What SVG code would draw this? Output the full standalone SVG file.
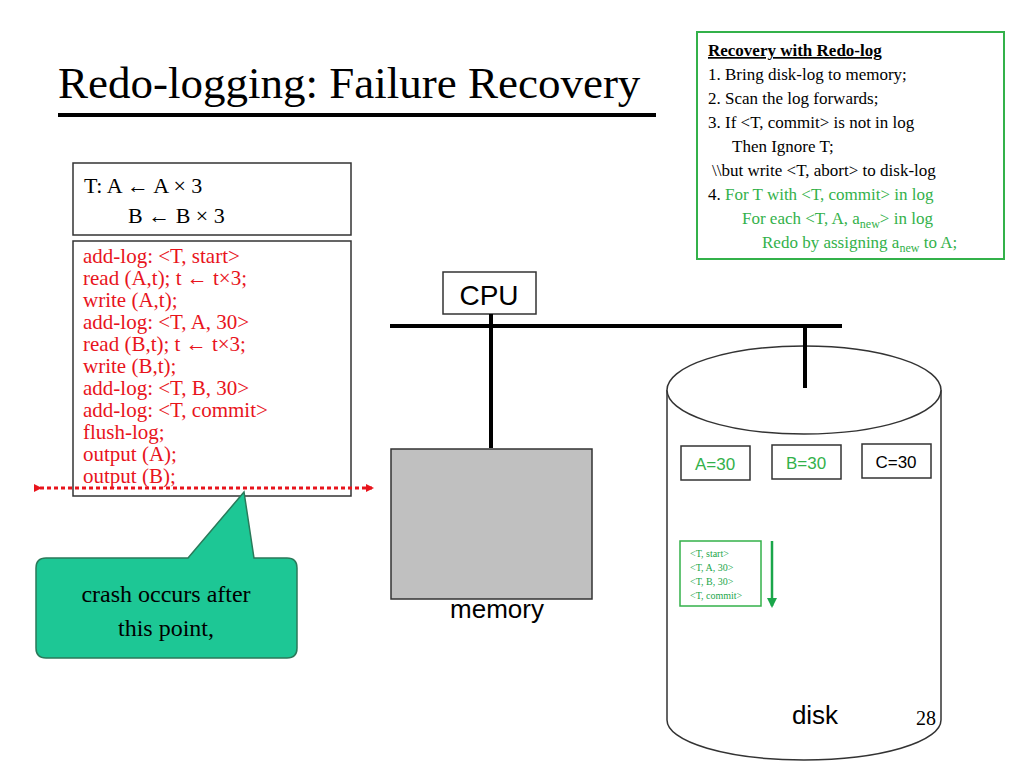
<svg xmlns="http://www.w3.org/2000/svg" width="1024" height="768" viewBox="0 0 1024 768">
<style>
.s{font-family:"Liberation Serif",serif}
.a{font-family:"Liberation Sans",sans-serif}
.r{fill:#e8141c}
.g{fill:#33b14a}
.bx{fill:#fff;stroke:#333;stroke-width:1.5}
</style>
<defs>
<marker id="ar" markerWidth="8" markerHeight="8" refX="6" refY="4" orient="auto" markerUnits="userSpaceOnUse"><path d="M0,0 L8,4 L0,8z" fill="#e8141c"/></marker>
<marker id="ga" markerWidth="10" markerHeight="10" refX="8" refY="5" orient="auto" markerUnits="userSpaceOnUse"><path d="M0,0 L10,5 L0,10z" fill="#1aa64a"/></marker>
</defs>
<rect width="1024" height="768" fill="#fff"/>
<g id="title"><text x="58" y="98" class="s" font-size="45">Redo-logging: Failure Recovery</text>
<line x1="58" y1="115" x2="656" y2="115" stroke="#000" stroke-width="4"/></g>
<g id="recovery">
<rect x="697" y="32" width="307" height="227" fill="#fff" stroke="#33b14a" stroke-width="2"/>
<g class="s" font-size="17">
<text x="708" y="56" font-weight="bold" text-decoration="underline">Recovery with Redo-log</text>
<text x="708" y="80">1. Bring disk-log to memory;</text>
<text x="708" y="104">2. Scan the log forwards;</text>
<text x="708" y="128">3. If &lt;T, commit&gt; is not in log</text>
<text x="732" y="152">Then Ignore T;</text>
<text x="712" y="176">\\but write &lt;T, abort&gt; to disk-log</text>
<text x="708" y="200">4. <tspan class="g">For T with &lt;T, commit&gt; in log</tspan></text>
<text x="742" y="224" class="g">For each &lt;T, A, a<tspan font-size="12" dy="4">new</tspan><tspan dy="-4">&gt; in log</tspan></text>
<text x="762" y="248" class="g">Redo by assigning a<tspan font-size="12" dy="4">new</tspan><tspan dy="-4"> to A;</tspan></text>
</g></g>
<g id="tx">
<rect x="73" y="163" width="278" height="72" class="bx" stroke="#000" stroke-width="2"/>
<text x="84" y="193" class="s" font-size="22">T:  A ← A × 3</text>
<text x="128" y="223" class="s" font-size="22">B ← B × 3</text>
</g>
<g id="steps">
<rect x="73" y="241" width="278" height="255" class="bx" stroke="#000" stroke-width="2"/>
<g class="s r" font-size="21">
<text x="83" y="263">add-log: &lt;T, start&gt;</text>
<text x="83" y="285">read (A,t);  t ← t×3;</text>
<text x="83" y="307">write (A,t);</text>
<text x="83" y="329">add-log: &lt;T, A, 30&gt;</text>
<text x="83" y="351">read (B,t);  t ← t×3;</text>
<text x="83" y="373">write (B,t);</text>
<text x="83" y="395">add-log: &lt;T, B, 30&gt;</text>
<text x="83" y="417">add-log: &lt;T, commit&gt;</text>
<text x="83" y="439">flush-log;</text>
<text x="83" y="461">output (A);</text>
<text x="83" y="483">output (B);</text>
</g></g>
<g id="cpu"><rect x="443" y="272" width="93" height="42" class="bx" stroke="#000"/>
<text x="489" y="305" class="a" font-size="28" text-anchor="middle">CPU</text></g>
<g id="memory"><rect x="391" y="449" width="201" height="150" fill="#c0c0c0" stroke="#333" stroke-width="1.5"/>
<text x="497" y="618" class="a" font-size="26" text-anchor="middle">memory</text></g>
<g id="disk">
<path d="M667,390 L667,720 A137,40 0 0 0 941,720 L941,390" fill="#fff" stroke="#333" stroke-width="1.5"/>
<ellipse cx="804" cy="390" rx="137" ry="44" fill="#fff" stroke="#333" stroke-width="1.5"/>
<text x="815" y="724" class="a" font-size="26" text-anchor="middle">disk</text>
</g>
<g id="a30"><rect x="681" y="446" width="69" height="34" class="bx"/><text x="715" y="470" class="a g" font-size="17" text-anchor="middle">A=30</text></g>
<g id="b30"><rect x="772" y="445" width="69" height="34" class="bx"/><text x="806" y="469" class="a g" font-size="17" text-anchor="middle">B=30</text></g>
<g id="c30"><rect x="862" y="444" width="69" height="34" class="bx"/><text x="896" y="468" class="a" font-size="17" text-anchor="middle">C=30</text></g>
<g id="log"><rect x="680" y="541" width="81" height="65" fill="#fff" stroke="#33b14a" stroke-width="1.5"/>
<g class="s" font-size="10" fill="#1aa64a">
<text x="690" y="557">&lt;T, start&gt;</text><text x="690" y="571">&lt;T, A, 30&gt;</text><text x="690" y="585">&lt;T, B, 30&gt;</text><text x="690" y="599">&lt;T, commit&gt;</text></g></g>
<g id="connectors">
<line x1="40" y1="488" x2="372" y2="488" stroke="#e8141c" stroke-width="3" stroke-dasharray="4,3" marker-start="url(#ar)" marker-end="url(#ar)"/>
<line x1="390" y1="326" x2="842" y2="326" stroke="#000" stroke-width="4"/>
<line x1="491" y1="314" x2="491" y2="448" stroke="#000" stroke-width="4"/>
<line x1="805" y1="326" x2="805" y2="388" stroke="#000" stroke-width="4"/>
<line x1="772" y1="541" x2="772" y2="606" stroke="#1aa64a" stroke-width="2.5" marker-end="url(#ga)"/>
</g>
<g id="crash">
<path d="M46,558 L188,558 L244,492 L254,558 L287,558 Q297,558 297,568 L297,648 Q297,658 287,658 L46,658 Q36,658 36,648 L36,568 Q36,558 46,558Z" fill="#1dc795" stroke="#2a7a5a" stroke-width="1.5"/>
<text x="166" y="602" class="s" font-size="24" text-anchor="middle">crash occurs after</text>
<text x="166" y="636" class="s" font-size="24" text-anchor="middle">this point,</text>
</g>
<text x="926" y="725" class="s" font-size="20" text-anchor="middle">28</text>
</svg>
